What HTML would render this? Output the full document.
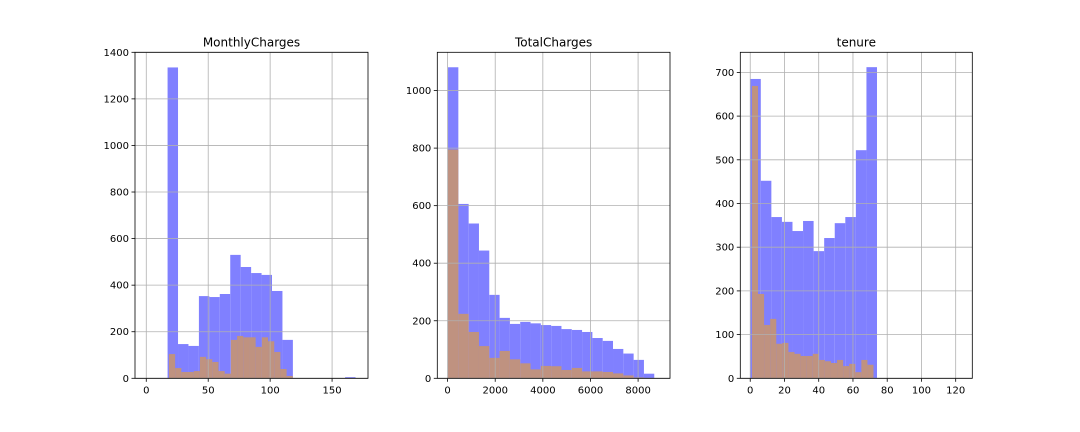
<!DOCTYPE html>
<html><head><meta charset="utf-8"><style>
body{margin:0;background:#fff;}
svg{display:block;font-family:"DejaVu Sans","Liberation Sans",sans-serif;}
</style></head><body>
<svg id="chart" width="1080" height="432" viewBox="0 0 1080 432"></svg>
<script>
// MonthlyCharges
const mcBlueStart = 17.2, mcBlueWidth = 8.43;
const mcBlue = [1335,147,139,353,349,362,530,478,452,444,375,165,0,0,0,0,0,5];
const mcOrangeStart = 18.3, mcOrangeWidth = 5.0;
const mcOrange = [104,44,27,27,31,92,82,70,31,20,165,182,176,176,135,176,159,113,40,10];
// TotalCharges
const tcBlueStart = 18.8, tcBlueWidth = 433;
const tcBlue = [1081,606,538,444,290,210,189,196,191,185,182,171,168,161,140,130,102,86,64,16];
const tcOrangeStart = 18.8, tcOrangeWidth = 433;
const tcOrange = [795,224,161,112,71,95,66,52,31,43,42,29,36,24,24,22,17,10,3,0];
// tenure
const tnBlueStart = 0, tnBlueWidth = 6.17;
const tnBlue = [685,452,369,358,337,360,291,321,355,369,522,712];
const tnOrangeStart = 1, tnOrangeWidth = 3.55;
const tnOrange = [669,193,122,136,79,81,60,56,51,51,56,42,39,35,42,28,33,14,42,31];

const titles = ["MonthlyCharges","TotalCharges","tenure"];
const xTicks = [[0,50,100,150],[0,2000,4000,6000,8000],[0,20,40,60,80,100,120]];
const yTicks = [[0,200,400,600,800,1000,1200,1400],[0,200,400,600,800,1000],[0,100,200,300,400,500,600,700]];

const panels = [
 {left:135,right:368,xmin:-9.1,xmax:179,ymax:1400,blue:mcBlue,bs:mcBlueStart,bw:mcBlueWidth,orange:mcOrange,os:mcOrangeStart,ow:mcOrangeWidth,name:"monthly-charges"},
 {left:437.3,right:670,xmin:-432,xmax:9340,ymax:1133,blue:tcBlue,bs:tcBlueStart,bw:tcBlueWidth,orange:tcOrange,os:tcOrangeStart,ow:tcOrangeWidth,name:"total-charges"},
 {left:740.3,right:972.3,xmin:-5.8,xmax:129.7,ymax:746,blue:tnBlue,bs:tnBlueStart,bw:tnBlueWidth,orange:tnOrange,os:tnOrangeStart,ow:tnOrangeWidth,name:"tenure"}
];
const plotTop=52.3,plotBottom=378.3;
const svg=document.getElementById('chart');
const NS="http://www.w3.org/2000/svg";
function mk(tag,attrs,parent){const e=document.createElementNS(NS,tag);for(const k in attrs)e.setAttribute(k,attrs[k]);(parent||svg).appendChild(e);return e;}

panels.forEach((p,i)=>{
  const g=mk('g',{});
  
  
  const xs=v=>p.left+(v-p.xmin)/(p.xmax-p.xmin)*(p.right-p.left);
  const ys=v=>plotBottom-v/p.ymax*(plotBottom-plotTop);
  p.blue.forEach((v,j)=>{
    if(v<=0)return;
    const x0=xs(p.bs+j*p.bw),x1=xs(p.bs+(j+1)*p.bw);
    const r=mk('rect',{x:x0,y:ys(v),width:x1-x0,height:plotBottom-ys(v),fill:'#8080ff'},g);
    
    
  });
  p.orange.forEach((v,j)=>{
    if(v<=0)return;
    const x0=xs(p.os+j*p.ow),x1=xs(p.os+(j+1)*p.ow);
    const r=mk('rect',{x:x0,y:ys(v),width:x1-x0,height:plotBottom-ys(v),fill:'#bf9280'},g);
    
    
  });
  xTicks[i].forEach(t=>{
    const x=xs(t);
    mk('line',{x1:x,x2:x,y1:plotTop,y2:plotBottom,stroke:'#b0b0b0','stroke-width':0.8},g);
    mk('line',{x1:x,x2:x,y1:plotBottom,y2:plotBottom+3.5,stroke:'#000','stroke-width':0.8},g);
    const tx=mk('text',{x:x,y:plotBottom+15,'font-size':10,'text-anchor':'middle',fill:'#000'},g);
    tx.textContent=t;
    
    
  });
  yTicks[i].forEach(t=>{
    const y=ys(t);
    mk('line',{x1:p.left,x2:p.right,y1:y,y2:y,stroke:'#b0b0b0','stroke-width':0.8},g);
    mk('line',{x1:p.left-3.5,x2:p.left,y1:y,y2:y,stroke:'#000','stroke-width':0.8},g);
    const tx=mk('text',{x:p.left-6,y:y+3.5,'font-size':10,'text-anchor':'end',fill:'#000'},g);
    tx.textContent=t;
    
    
  });
  mk('rect',{x:p.left,y:plotTop,width:p.right-p.left,height:plotBottom-plotTop,fill:'none',stroke:'#000','stroke-width':0.8},g);
  const ti=mk('text',{x:(p.left+p.right)/2,y:plotTop-6,'font-size':12,'text-anchor':'middle',fill:'#000'},g);
  ti.textContent=titles[i];
  
  
});
</script>
</body></html>
